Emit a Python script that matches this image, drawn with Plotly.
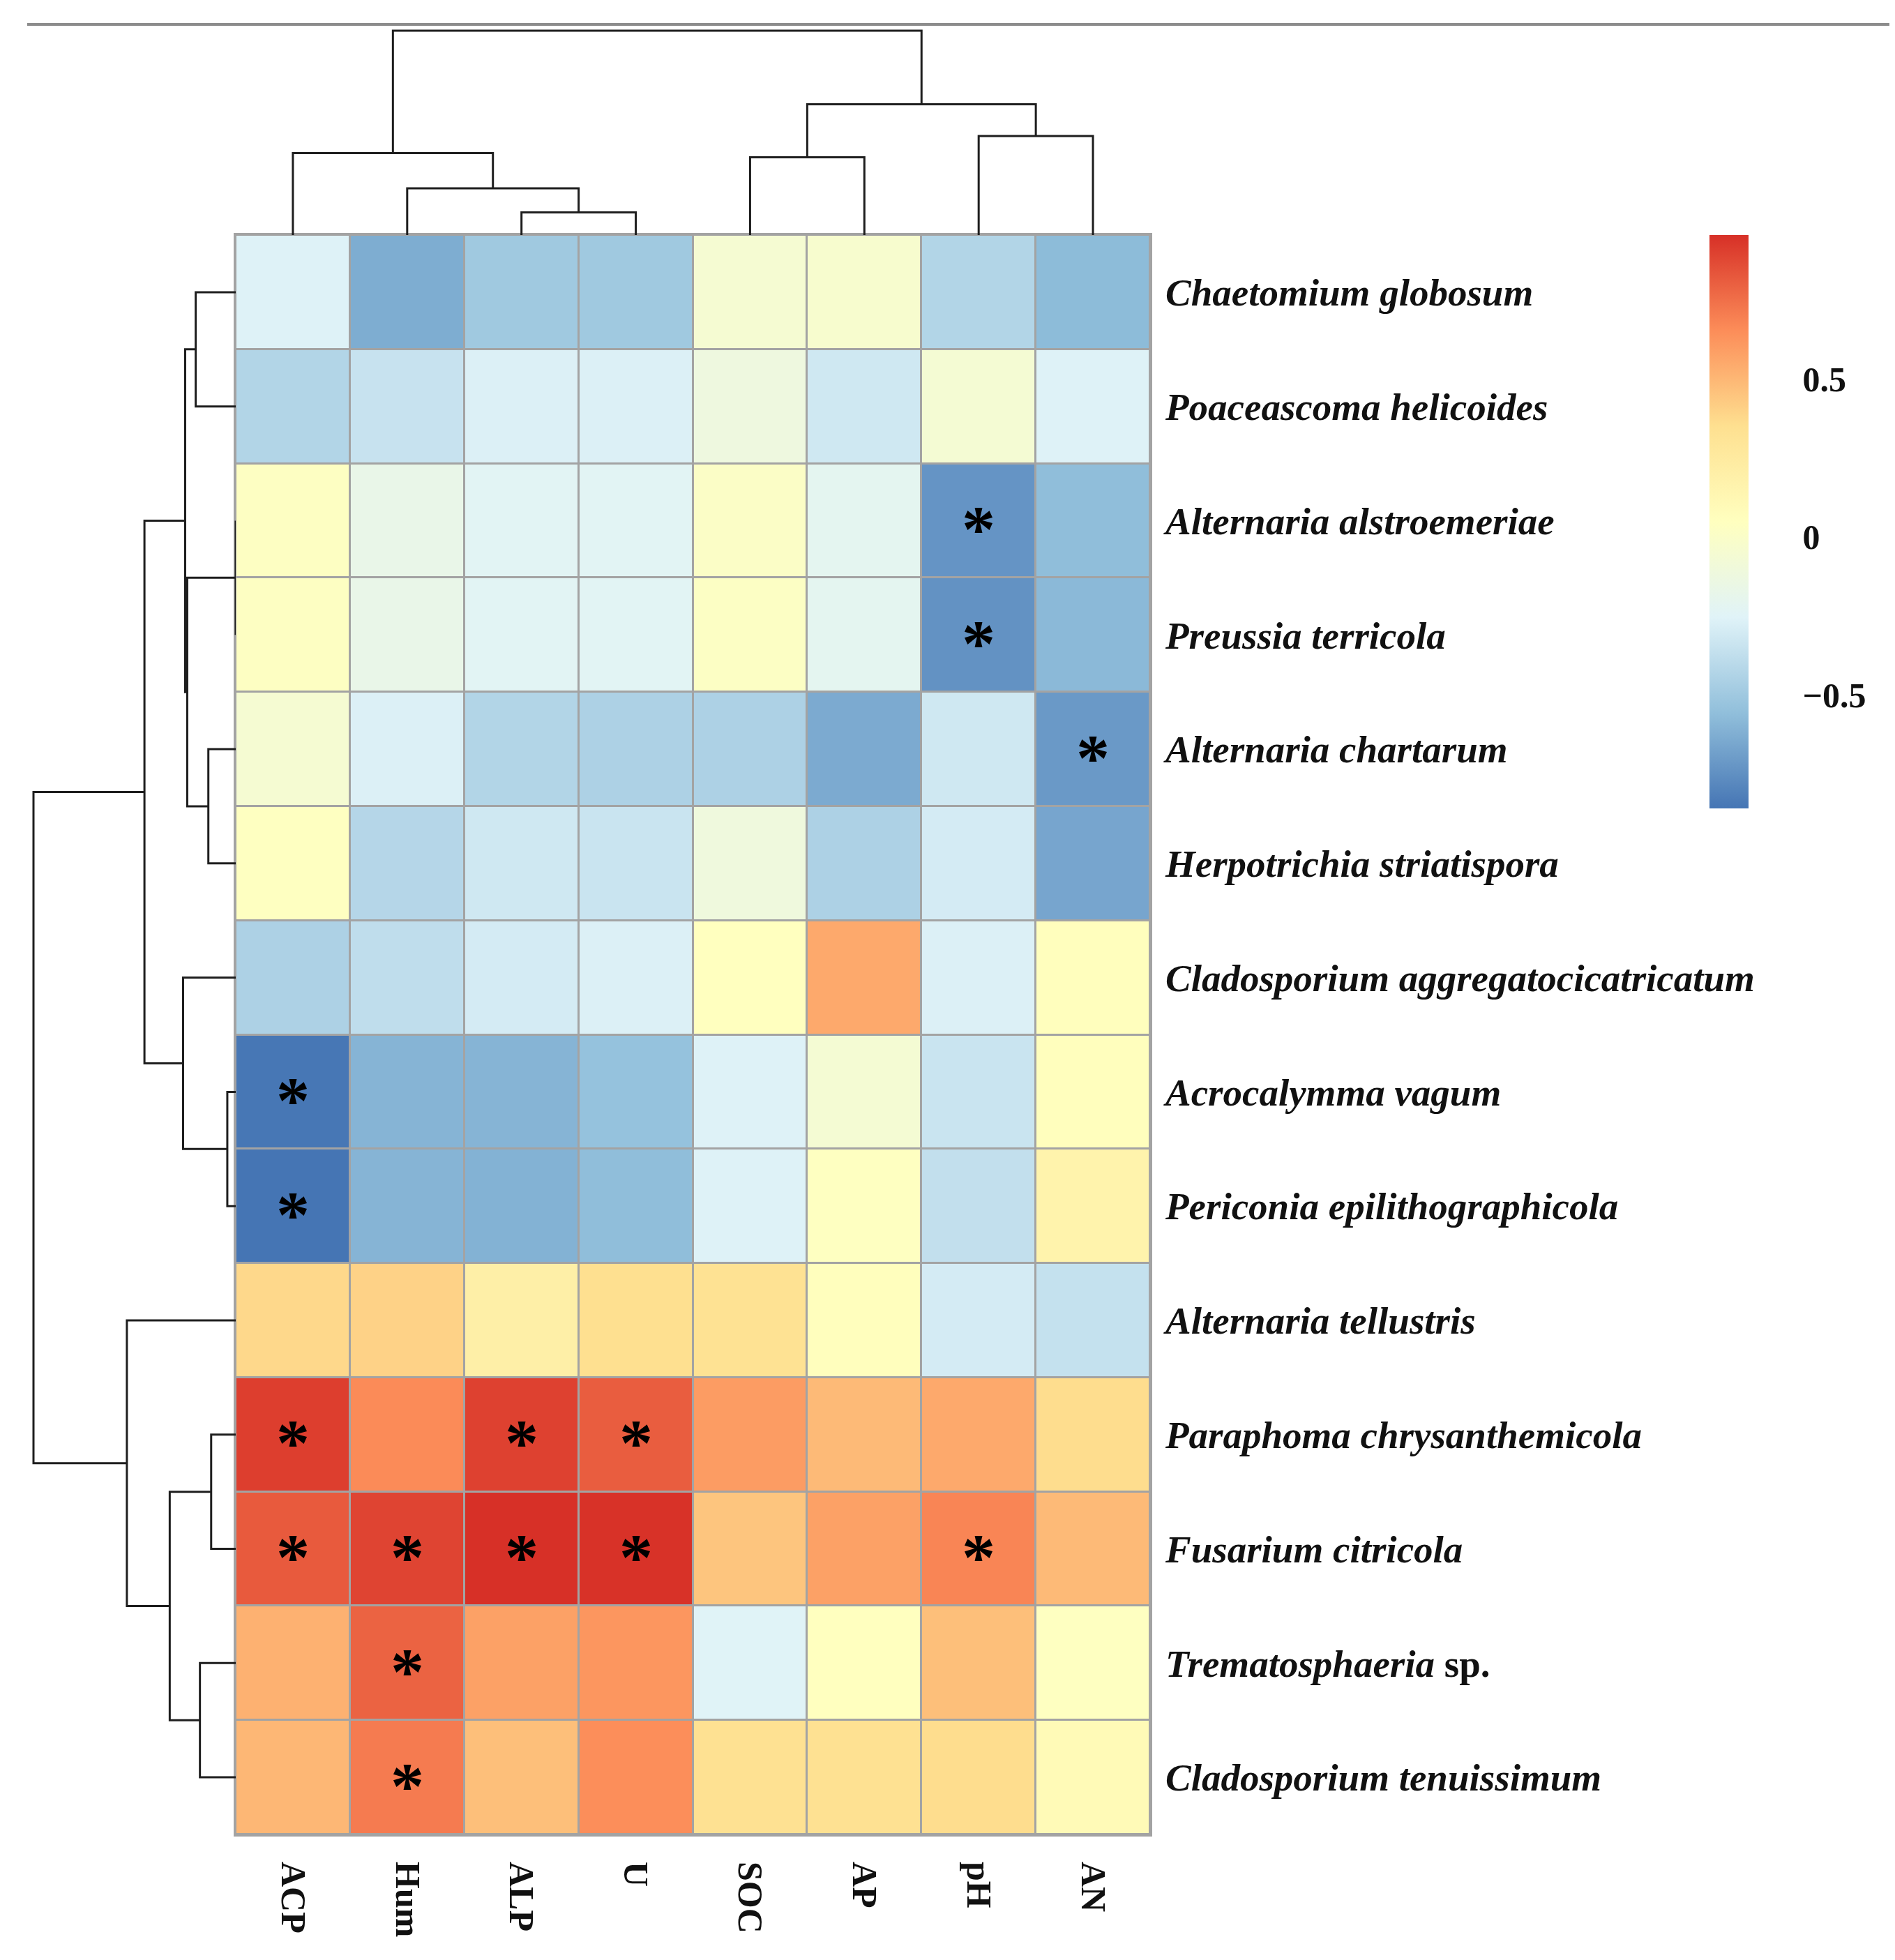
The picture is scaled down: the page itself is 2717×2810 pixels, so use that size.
import plotly.graph_objects as go

# ---------------- data ----------------
columns = ["ACP", "Hum", "ALP", "U", "SOC", "AP", "pH", "AN"]
rows = [
    "<i>Chaetomium globosum</i>",
    "<i>Poaceascoma helicoides</i>",
    "<i>Alternaria alstroemeriae</i>",
    "<i>Preussia terricola</i>",
    "<i>Alternaria chartarum</i>",
    "<i>Herpotrichia striatispora</i>",
    "<i>Cladosporium aggregatocicatricatum</i>",
    "<i>Acrocalymma vagum</i>",
    "<i>Periconia epilithographicola</i>",
    "<i>Alternaria tellustris</i>",
    "<i>Paraphoma chrysanthemicola</i>",
    "<i>Fusarium citricola</i>",
    "<i>Trematosphaeria</i> sp.",
    "<i>Cladosporium tenuissimum</i>",
]

r_chaetomium = [-0.26, -0.63, -0.50, -0.50, -0.05, -0.03, -0.43, -0.57]
r_poaceascoma = [-0.43, -0.35, -0.27, -0.27, -0.12, -0.32, -0.06, -0.26]
r_alt_alstro = [0.03, -0.17, -0.23, -0.23, 0.01, -0.21, -0.73, -0.56]
r_preussia = [0.03, -0.17, -0.23, -0.23, 0.02, -0.21, -0.74, -0.58]
r_alt_chart = [-0.05, -0.27, -0.43, -0.45, -0.45, -0.64, -0.32, -0.71]
r_herpotrichia = [0.04, -0.42, -0.32, -0.34, -0.11, -0.45, -0.30, -0.66]
r_clado_aggr = [-0.45, -0.38, -0.30, -0.27, 0.05, 0.55, -0.27, 0.06]
r_acrocalymma = [-0.85, -0.60, -0.60, -0.54, -0.26, -0.06, -0.34, 0.06]
r_periconia = [-0.858, -0.60, -0.61, -0.56, -0.26, 0.04, -0.37, 0.17]
r_alt_tell = [0.38, 0.40, 0.20, 0.35, 0.33, 0.06, -0.30, -0.36]
r_paraphoma = [0.91, 0.66, 0.90, 0.81, 0.60, 0.49, 0.55, 0.36]
r_fusarium = [0.82, 0.89, 0.955, 0.95, 0.45, 0.58, 0.68, 0.49]
r_tremato = [0.52, 0.79, 0.58, 0.62, -0.25, 0.05, 0.47, 0.04]
r_clado_tenu = [0.50, 0.71, 0.47, 0.65, 0.34, 0.34, 0.36, 0.10]

values = [r_chaetomium, r_poaceascoma, r_alt_alstro, r_preussia, r_alt_chart,
          r_herpotrichia, r_clado_aggr, r_acrocalymma, r_periconia, r_alt_tell,
          r_paraphoma, r_fusarium, r_tremato, r_clado_tenu]

# significance flags (1 = '*')
sig = [
    [0, 0, 0, 0, 0, 0, 0, 0],
    [0, 0, 0, 0, 0, 0, 0, 0],
    [0, 0, 0, 0, 0, 0, 1, 0],
    [0, 0, 0, 0, 0, 0, 1, 0],
    [0, 0, 0, 0, 0, 0, 0, 1],
    [0, 0, 0, 0, 0, 0, 0, 0],
    [0, 0, 0, 0, 0, 0, 0, 0],
    [1, 0, 0, 0, 0, 0, 0, 0],
    [1, 0, 0, 0, 0, 0, 0, 0],
    [0, 0, 0, 0, 0, 0, 0, 0],
    [1, 0, 1, 1, 0, 0, 0, 0],
    [1, 1, 1, 1, 0, 0, 1, 0],
    [0, 1, 0, 0, 0, 0, 0, 0],
    [0, 1, 0, 0, 0, 0, 0, 0],
]

# dendrogram linkages (child_a, child_b, height); leaves are 0..n-1, merges n, n+1, ...
row_linkage = [
    (2, 3, 0.0), (7, 8, 12), (10, 11, 35), (12, 13, 51), (4, 5, 39), (0, 1, 57),
    (14, 18, 69), (19, 20, 72), (6, 15, 75), (16, 17, 94), (21, 22, 130),
    (9, 23, 155), (24, 25, 288),
]
col_linkage = [
    (2, 3, 32), (1, 8, 66), (0, 9, 116), (4, 5, 110), (6, 7, 140),
    (11, 12, 185), (10, 13, 289),
]

colorbar_ticks = [-0.5, 0, 0.5]
colorbar_ticktext = ["\u22120.5", "0", "0.5"]

# ---------------- helpers ----------------
W, H = 2717, 2810


def px_x(p):
    return p / W


def px_y(p):
    return 1 - p / H


def dendro(linkage, n):
    pos = {i: float(i) for i in range(n)}
    hgt = {i: 0.0 for i in range(n)}
    ps, hs = [], []
    for k, (a, b, h) in enumerate(linkage):
        node = n + k
        ps += [pos[a], pos[a], pos[b], pos[b], None]
        hs += [hgt[a], h, h, hgt[b], None]
        pos[node] = (pos[a] + pos[b]) / 2
        hgt[node] = h
    return ps, hs


# pixel layout
hm_left, hm_right, hm_top, hm_bottom = 330, 1641, 329, 2622
col_root_px, row_root_px = 36, 40
grid_color = "#A3A3A3"

colorscale = [
    [0 / 6, "#4575B4"], [1 / 6, "#91BFDB"], [2 / 6, "#E0F3F8"], [3 / 6, "#FFFFBF"],
    [4 / 6, "#FEE090"], [5 / 6, "#FC8D59"], [6 / 6, "#D73027"],
]

fig = go.Figure()

fig.add_trace(go.Heatmap(
    z=values,
    x=list(range(len(columns))),
    y=list(range(len(rows))),
    colorscale=colorscale,
    xgap=3, ygap=3,
    colorbar=dict(
        x=px_x(2443), xanchor="left", xpad=0,
        y=px_y(hm_top), yanchor="top", ypad=0,
        len=822, lenmode="pixels",
        thickness=56, outlinewidth=0,
        tickvals=colorbar_ticks, ticktext=colorbar_ticktext,
        ticks="outside", ticklen=68, tickcolor="rgba(0,0,0,0)",
        tickfont=dict(family="Liberation Serif", size=50, color="#111", weight="bold"),
    ),
    xaxis="x", yaxis="y",
    hoverinfo="skip",
))

# top dendrogram (columns)
cx, ch = dendro(col_linkage, len(columns))
col_root = max(h for _, _, h in col_linkage)
fig.add_trace(go.Scatter(x=cx, y=ch, mode="lines",
                         line=dict(color="#1E1E1E", width=3),
                         xaxis="x2", yaxis="y2", showlegend=False, hoverinfo="skip"))

# left dendrogram (rows)
rp, rh = dendro(row_linkage, len(rows))
row_root = max(h for _, _, h in row_linkage)
fig.add_trace(go.Scatter(x=rh, y=rp, mode="lines",
                         line=dict(color="#1E1E1E", width=3),
                         xaxis="x3", yaxis="y3", showlegend=False, hoverinfo="skip"))

# significance asterisks
annotations = []
for i, r in enumerate(sig):
    for j, s in enumerate(r):
        if s:
            annotations.append(dict(
                x=j, y=i, xref="x", yref="y", text="*", showarrow=False,
                font=dict(family="Liberation Serif", size=96, color="#000", weight="bold"),
                yshift=-12,
            ))

pad = 0.02
col_top_px = col_root_px - pad * (hm_top - col_root_px)
row_left_px = row_root_px - pad * (hm_left - row_root_px)

fig.update_layout(
    width=W, height=H,
    margin=dict(l=0, r=0, t=0, b=0),
    paper_bgcolor="white",
    plot_bgcolor="white",
    showlegend=False,
    annotations=annotations,
    xaxis=dict(
        domain=[px_x(hm_left), px_x(hm_right)], range=[-0.5, len(columns) - 0.5],
        tickvals=list(range(len(columns))), ticktext=columns,
        tickangle=90, ticks="", ticklabelstandoff=26,
        tickfont=dict(family="Liberation Serif", size=50, color="#111", weight="bold"),
        showgrid=False, zeroline=False,
        showline=True, mirror=True, linecolor=grid_color, linewidth=3,
        anchor="y",
    ),
    yaxis=dict(
        domain=[px_y(hm_bottom), px_y(hm_top)], range=[len(rows) - 0.5, -0.5],
        tickvals=list(range(len(rows))), ticktext=rows, side="right",
        ticks="", ticklabelstandoff=8,
        tickfont=dict(family="Liberation Serif", size=55, color="#111", weight="bold"),
        showgrid=False, zeroline=False,
        showline=True, mirror=True, linecolor=grid_color, linewidth=3,
        anchor="x",
    ),
    xaxis2=dict(domain=[px_x(hm_left), px_x(hm_right)], range=[-0.5, len(columns) - 0.5],
                visible=False, anchor="y2"),
    yaxis2=dict(domain=[px_y(hm_top), px_y(col_top_px)], range=[0, col_root * (1 + pad)],
                visible=False, anchor="x2"),
    xaxis3=dict(domain=[px_x(row_left_px), px_x(hm_left)], range=[row_root * (1 + pad), 0],
                visible=False, anchor="y3"),
    yaxis3=dict(domain=[px_y(hm_bottom), px_y(hm_top)], range=[len(rows) - 0.5, -0.5],
                visible=False, anchor="x3"),
    shapes=[
        # grey background behind the heatmap cells -> cell borders
        dict(type="rect", xref="x domain", yref="y domain", x0=0, x1=1, y0=0, y1=1,
             fillcolor=grid_color, line=dict(width=0), layer="below"),
        # thin rule across the top of the figure
        dict(type="line", xref="paper", yref="paper",
             x0=px_x(31), x1=px_x(2706), y0=px_y(27), y1=px_y(27),
             line=dict(color="#8C8C8C", width=4)),
    ],
)

fig.write_html("out.html")
